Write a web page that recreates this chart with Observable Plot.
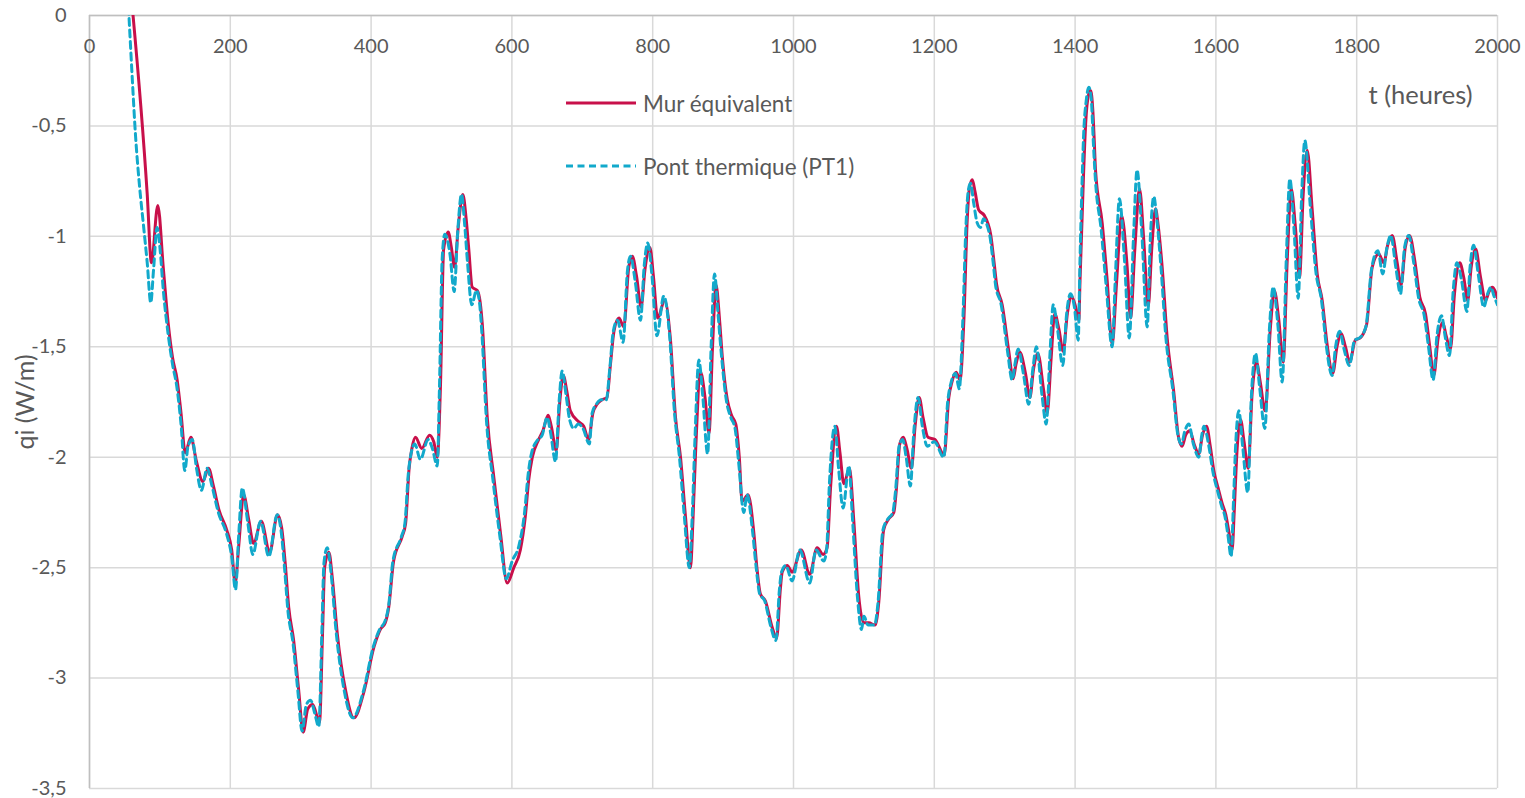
<!DOCTYPE html>
<html>
<head>
<meta charset="utf-8">
<script src="https://cdn.jsdelivr.net/npm/d3@7"></script>
<script src="https://cdn.jsdelivr.net/npm/@observablehq/plot@0.6"></script>
<style>
  html, body { margin: 0; padding: 0; background: #fff; }
  #wrap { position: relative; width: 1525px; height: 798px; font-family: Lato, "Open Sans", sans-serif; color: #595959; }
  #legend { position: absolute; left: 566px; top: 88px; font-size: 22.5px; }
  .item { display: flex; align-items: center; height: 30px; margin-bottom: 33px; }
  .item svg { margin-right: 7px; }
</style>
</head>
<body>
<div id="wrap">
  <div id="chart"></div>
  <div id="legend">
    <div class="item"><svg width="70" height="6"><line x1="0" y1="3" x2="70" y2="3" stroke="#c8104a" stroke-width="3.2"/></svg><span>Mur équivalent</span></div>
    <div class="item"><svg width="70" height="6"><line x1="0" y1="3" x2="70" y2="3" stroke="#12a9cb" stroke-width="3.2" stroke-dasharray="7,4.5"/></svg><span>Pont thermique (PT1)</span></div>
  </div>
</div>
<script>
// Axis ticks
const xTicks = [0, 200, 400, 600, 800, 1000, 1200, 1400, 1600, 1800, 2000];
const yTicks = [0, -0.5, -1, -1.5, -2, -2.5, -3, -3.5];

// Series: [t (heures), qi (W/m)]
const murEquivalent = [
  [52,0.33],[82,-0.81],[88,-1.12],[97,-0.86],[105,-1.15],[112,-1.40],[118,-1.55],[124.5,-1.65],[130,-1.80],
  [136,-1.98],[144,-1.91],[152,-2.02],[161,-2.11],[169,-2.05],[176,-2.13],[184,-2.24],[195,-2.33],[202,-2.42],
  [207,-2.57],[212,-2.40],[219,-2.17],[226,-2.28],[233,-2.39],[244,-2.29],[256,-2.43],[267,-2.26],[273,-2.32],
  [278,-2.48],[283,-2.68],[290,-2.83],[297,-3.05],[303.5,-3.245],[310,-3.14],[317,-3.12],[326.7,-3.20],[331,-2.80],
  [334,-2.50],[340,-2.43],[345,-2.55],[352,-2.80],[364,-3.06],[375.5,-3.18],[390,-3.06],[404,-2.86],[413,-2.78],
  [420,-2.75],[425,-2.68],[432,-2.47],[444,-2.36],[449,-2.30],[454,-2.05],[458,-1.96],[463,-1.91],[472,-1.96],
  [483,-1.90],[489,-1.93],[494,-2.00],[498.6,-1.67],[503,-1.06],[509.5,-0.98],[514,-1.05],[518.5,-1.14],[524,-0.95],
  [530.3,-0.81],[535,-0.92],[538.8,-1.06],[543.6,-1.23],[550.7,-1.245],[555,-1.30],[558,-1.40],[565,-1.82],
  [574.3,-2.09],[584,-2.35],[593.3,-2.57],[602.7,-2.50],[612,-2.42],[619,-2.27],[624,-2.10],[629,-2.00],[638,-1.92],
  [644,-1.88],[651.5,-1.81],[656,-1.86],[663,-1.97],[668,-1.75],[673,-1.63],[678,-1.70],[683,-1.79],[695,-1.84],
  [702,-1.86],[709,-1.92],[715,-1.80],[721,-1.76],[728,-1.74],[735,-1.73],[740,-1.58],[745,-1.43],[752,-1.37],
  [759,-1.41],[766,-1.14],[771,-1.09],[777,-1.18],[783.6,-1.32],[789,-1.15],[796,-1.05],[801,-1.18],[807,-1.37],
  [817,-1.29],[825,-1.46],[832.4,-1.82],[839.5,-2.00],[846.6,-2.27],[853.7,-2.50],[857,-2.30],[861,-1.97],
  [868,-1.615],[874,-1.72],[880,-1.89],[885,-1.50],[890,-1.22],[895,-1.38],[899,-1.55],[906,-1.74],[912,-1.81],
  [918,-1.85],[923,-2.00],[927,-2.20],[935.5,-2.17],[943.6,-2.34],[948,-2.50],[953,-2.62],[960,-2.65],[969.7,-2.77],
  [976,-2.82],[981.5,-2.59],[984,-2.52],[991,-2.49],[998,-2.52],[1011,-2.42],[1023,-2.53],[1033.6,-2.41],[1042,-2.44],
  [1047.7,-2.41],[1052.6,-2.14],[1061,-1.86],[1066,-1.98],[1071.5,-2.12],[1079.5,-2.05],[1085.7,-2.29],[1092.7,-2.63],
  [1100,-2.75],[1107,-2.75],[1116,-2.76],[1121,-2.66],[1128,-2.33],[1135,-2.28],[1142.5,-2.25],[1146,-2.15],
  [1151,-1.94],[1156,-1.91],[1161,-1.96],[1167.5,-2.05],[1173,-1.85],[1178.5,-1.73],[1184,-1.82],[1191,-1.91],
  [1201,-1.92],[1214,-1.99],[1220.6,-1.73],[1225,-1.66],[1231,-1.615],[1236.5,-1.65],[1242,-1.38],[1246.7,-0.93],
  [1250,-0.78],[1254,-0.744],[1258,-0.80],[1263,-0.88],[1271,-0.905],[1276,-0.94],[1280,-0.99],[1285,-1.12],
  [1288.4,-1.215],[1296.4,-1.31],[1305.8,-1.52],[1312,-1.645],[1316,-1.58],[1321.5,-1.525],[1329.5,-1.62],
  [1335.7,-1.73],[1341,-1.60],[1347,-1.53],[1355.5,-1.70],[1360.4,-1.80],[1366,-1.55],[1371,-1.35],[1377,-1.42],
  [1383,-1.52],[1389,-1.35],[1394.4,-1.27],[1400,-1.31],[1405.3,-1.38],[1407,-1.20],[1410,-0.91],[1412,-0.72],
  [1415,-0.49],[1419,-0.36],[1422,-0.34],[1425,-0.42],[1427,-0.55],[1429,-0.70],[1438.5,-0.94],[1445.6,-1.20],
  [1452.7,-1.49],[1458.8,-1.215],[1466,-0.905],[1474,-1.14],[1478.7,-1.37],[1485,-1.05],[1491.5,-0.785],
  [1497.6,-1.02],[1503.8,-1.32],[1509,-1.05],[1514.2,-0.875],[1518,-0.95],[1523.7,-1.14],[1530.8,-1.46],
  [1540,-1.70],[1547,-1.91],[1552,-1.95],[1557,-1.90],[1563,-1.88],[1569,-1.94],[1575.7,-1.985],[1581,-1.90],
  [1586.6,-1.86],[1592,-1.95],[1597,-2.06],[1604,-2.15],[1609,-2.21],[1614,-2.26],[1618,-2.33],[1623,-2.42],
  [1626,-2.25],[1629.3,-2.01],[1635,-1.83],[1640,-1.93],[1645.8,-2.05],[1651.5,-1.71],[1657.7,-1.57],[1663,-1.66],
  [1670,-1.79],[1677.5,-1.41],[1683,-1.245],[1689.4,-1.38],[1695.6,-1.57],[1701.3,-1.11],[1707,-0.785],[1713,-0.96],
  [1718.8,-1.185],[1724,-0.81],[1729.7,-0.61],[1736.8,-0.88],[1743.9,-1.17],[1751,-1.29],[1758,-1.49],[1766,-1.62],
  [1772,-1.50],[1778,-1.44],[1784,-1.50],[1790,-1.57],[1798,-1.47],[1805,-1.46],[1814,-1.40],[1822,-1.14],
  [1831.4,-1.08],[1838.5,-1.12],[1844,-1.04],[1850.4,-0.996],[1857.5,-1.12],[1863,-1.22],[1869,-1.05],[1875,-0.996],
  [1882.5,-1.11],[1889.6,-1.275],[1897.7,-1.35],[1903.8,-1.50],[1909.5,-1.63],[1915.7,-1.46],[1922.3,-1.39],
  [1927,-1.45],[1933.2,-1.51],[1938.9,-1.26],[1946.4,-1.12],[1952,-1.185],[1957.7,-1.29],[1962.6,-1.14],
  [1968.8,-1.056],[1975.9,-1.185],[1983,-1.29],[1988,-1.25],[1992.5,-1.23],[2000,-1.28]
];

const pontThermique = [
  [50,0.35],[56,0],[61,-0.30],[65.3,-0.54],[71,-0.77],[77,-0.96],[82,-1.12],[87,-1.30],[91,-1.15],[96,-0.96],
  [100,-1.05],[105,-1.25],[112,-1.45],[118,-1.58],[124,-1.68],[130,-1.85],[135.4,-2.06],[140,-1.95],[146,-1.92],
  [152,-2.05],[159,-2.15],[167,-2.05],[174,-2.13],[183,-2.25],[195,-2.35],[202,-2.45],[207.4,-2.60],[212,-2.35],
  [217,-2.14],[225,-2.30],[232,-2.44],[243,-2.29],[254.7,-2.45],[266.6,-2.26],[272,-2.33],[277,-2.50],[282,-2.70],
  [289,-2.84],[296,-3.06],[302,-3.24],[308,-3.12],[314,-3.10],[320,-3.16],[325.7,-3.22],[330,-2.80],[333,-2.48],
  [337.6,-2.41],[343,-2.52],[350,-2.78],[362,-3.06],[374,-3.18],[389,-3.06],[403,-2.86],[412,-2.78],[420,-2.74],
  [425,-2.67],[431,-2.47],[443,-2.36],[448,-2.30],[453,-2.07],[457,-1.98],[462,-1.94],[470,-2.01],[481,-1.92],
  [487,-1.96],[494,-2.04],[497,-1.70],[501,-1.10],[504.7,-0.99],[512,-1.08],[518,-1.25],[523,-0.98],[528.4,-0.81],
  [533,-0.95],[537,-1.12],[543,-1.31],[549.7,-1.245],[554,-1.30],[557,-1.42],[564,-1.84],[573,-2.10],[583,-2.36],
  [592,-2.55],[600.4,-2.47],[610,-2.40],[618,-2.25],[623,-2.08],[628,-1.98],[637,-1.92],[643,-1.90],[650,-1.82],
  [655,-1.89],[662,-2.02],[667,-1.75],[671.4,-1.61],[677,-1.72],[682,-1.83],[688,-1.87],[694,-1.85],[701,-1.87],
  [710,-1.94],[714,-1.80],[720,-1.76],[727,-1.74],[734,-1.74],[739,-1.60],[744,-1.43],[750,-1.38],[758,-1.48],
  [764,-1.16],[768.5,-1.09],[775,-1.20],[782.7,-1.38],[788,-1.13],[793,-1.03],[799,-1.18],[806,-1.45],[815.8,-1.27],
  [824,-1.45],[831,-1.80],[838,-2.00],[845,-2.27],[852,-2.50],[856,-2.28],[860,-1.92],[865.5,-1.56],[871,-1.72],
  [878,-1.985],[883,-1.50],[887.8,-1.17],[893,-1.36],[898,-1.55],[905,-1.75],[911,-1.82],[917,-1.87],[922,-2.02],
  [929.4,-2.25],[934,-2.17],[942,-2.34],[947,-2.50],[952,-2.62],[959,-2.65],[968,-2.77],[975,-2.83],[980,-2.60],
  [983,-2.52],[989,-2.49],[998,-2.56],[1009,-2.42],[1023,-2.57],[1032,-2.42],[1043,-2.47],[1047,-2.42],[1051,-2.12],
  [1058.7,-1.86],[1064,-2.05],[1070.5,-2.23],[1078.6,-2.04],[1084,-2.29],[1091,-2.64],[1096.6,-2.78],[1100,-2.72],
  [1106,-2.76],[1115,-2.76],[1120,-2.66],[1127,-2.33],[1134,-2.28],[1141,-2.25],[1145,-2.15],[1150,-1.95],
  [1155,-1.92],[1160,-2.00],[1166,-2.13],[1171,-1.88],[1177,-1.73],[1183,-1.86],[1190,-1.95],[1200,-1.93],
  [1213.5,-2.00],[1219,-1.75],[1224,-1.66],[1230,-1.62],[1235.5,-1.69],[1240.5,-1.38],[1245,-0.95],[1248,-0.80],
  [1251.4,-0.76],[1256,-0.85],[1261,-0.94],[1265.6,-0.96],[1270,-0.92],[1275,-0.95],[1279,-1.00],[1284,-1.13],
  [1287,-1.22],[1295,-1.31],[1304,-1.52],[1310.6,-1.65],[1315,-1.57],[1319,-1.51],[1327,-1.63],[1334,-1.76],
  [1340,-1.60],[1345,-1.50],[1353,-1.72],[1359,-1.85],[1364,-1.55],[1369,-1.31],[1375,-1.42],[1382.5,-1.585],
  [1388,-1.35],[1393.5,-1.26],[1399,-1.32],[1404.4,-1.47],[1407,-1.10],[1409.5,-0.80],[1412,-0.55],[1416,-0.38],
  [1419.5,-0.325],[1423,-0.38],[1426,-0.58],[1429,-0.75],[1437,-0.97],[1444,-1.22],[1452.7,-1.50],[1457,-1.20],
  [1463,-0.83],[1470,-1.10],[1477,-1.46],[1483,-1.00],[1488,-0.70],[1495,-1.00],[1502.4,-1.41],[1507,-1.00],
  [1511.8,-0.82],[1516,-0.92],[1522,-1.14],[1529,-1.46],[1539,-1.70],[1546,-1.90],[1551,-1.94],[1556,-1.88],
  [1561.5,-1.85],[1568,-1.94],[1575.7,-2.00],[1580,-1.90],[1583,-1.86],[1590,-1.95],[1596,-2.07],[1603,-2.16],
  [1608,-2.22],[1613,-2.27],[1617,-2.35],[1621.6,-2.45],[1625,-2.20],[1628,-1.95],[1632.5,-1.79],[1638,-1.95],
  [1645.3,-2.16],[1650,-1.75],[1656.3,-1.53],[1662,-1.68],[1669.5,-1.87],[1676,-1.42],[1681.4,-1.23],[1688,-1.40],
  [1694.2,-1.66],[1700,-1.10],[1705,-0.74],[1711,-0.97],[1716.9,-1.28],[1722,-0.80],[1726.3,-0.566],[1734,-0.86],
  [1742,-1.16],[1750,-1.29],[1757,-1.50],[1765,-1.63],[1770,-1.50],[1775.8,-1.43],[1782,-1.51],[1789.5,-1.585],
  [1797,-1.47],[1804,-1.46],[1813,-1.41],[1821,-1.15],[1830,-1.065],[1837,-1.17],[1843,-1.05],[1848.3,-0.996],
  [1856,-1.15],[1862.2,-1.26],[1868,-1.05],[1874,-0.996],[1881,-1.12],[1888,-1.28],[1896,-1.36],[1902,-1.50],
  [1908.6,-1.65],[1914,-1.45],[1920.5,-1.36],[1926,-1.46],[1931.8,-1.54],[1937,-1.25],[1942.3,-1.12],[1949,-1.20],
  [1956.5,-1.34],[1961,-1.14],[1966,-1.04],[1973,-1.18],[1980.5,-1.32],[1986,-1.26],[1990.6,-1.23],[1995,-1.27],
  [2000,-1.31]
];

const fmtY = d => d === 0 ? "0" : String(d).replace(".", ",");
const labelColor = "#595959";

const chart = Plot.plot({
  width: 1525,
  height: 798,
  marginLeft: 89,
  marginRight: 28,
  marginTop: 15,
  marginBottom: 10,
  style: { fontFamily: "Lato, 'Open Sans', sans-serif", background: "#fff", overflow: "visible" },
  x: { domain: [0, 2000], axis: null },
  y: { domain: [-3.5, 0], axis: null },
  marks: [
    Plot.ruleX(xTicks, { stroke: "#d9d9d9", strokeWidth: 1.5 }),
    Plot.ruleY(yTicks, { stroke: "#d9d9d9", strokeWidth: 1.5 }),
    Plot.ruleX([0], { stroke: "#bfbfbf", strokeWidth: 1.5 }),
    Plot.ruleY([0], { stroke: "#bfbfbf", strokeWidth: 1.5 }),
    Plot.line(murEquivalent, { x: d => d[0], y: d => d[1], curve: "monotone-x", stroke: "#c8104a", strokeWidth: 3, clip: true }),
    Plot.line(pontThermique, { x: d => d[0], y: d => d[1], curve: "monotone-x", stroke: "#12a9cb", strokeWidth: 3, strokeDasharray: "7,4.5", clip: true }),
    Plot.text(xTicks, { x: d => d, y: 0, dy: 31, text: d => String(d), fill: labelColor, fontSize: 20 }),
    Plot.text(yTicks, { x: 0, y: d => d, dx: -23, textAnchor: "end", text: fmtY, fill: labelColor, fontSize: 20 }),
    Plot.text(["qi (W/m)"], { frameAnchor: "left", dx: -64, rotate: -90, textAnchor: "middle", lineAnchor: "middle", text: d => d, fill: labelColor, fontSize: 25 }),
    Plot.text(["t (heures)"], { frameAnchor: "top-right", dx: -25, dy: 80, textAnchor: "end", lineAnchor: "middle", text: d => d, fill: labelColor, fontSize: 25.5 })
  ]
});
document.getElementById("chart").appendChild(chart);
</script>
</body>
</html>
